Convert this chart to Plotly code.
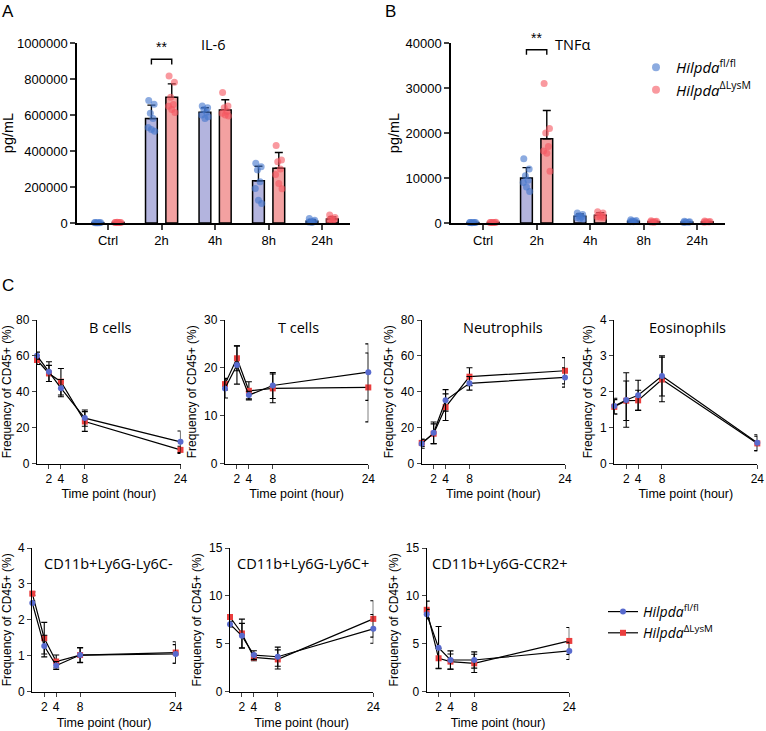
import plotly.graph_objects as go

W, H = 766, 731

# ---------------- Panel A / B data ----------------
categories = ["Ctrl", "2h", "4h", "8h", "24h"]

il6_fl_mean = [2000, 580000, 615000, 235000, 10000]
il6_fl_sd = [1000, 75000, 25000, 80000, 8000]
il6_ko_mean = [3000, 698000, 628000, 304000, 22000]
il6_ko_sd = [1000, 75000, 57000, 88000, 12000]
il6_fl_pts = [
    [1500, 2500, 2000, 1800, 2200, 1700],
    [680000, 660000, 610000, 580000, 530000, 520000, 510000],
    [650000, 640000, 630000, 615000, 600000, 580000, 590000],
    [332000, 313000, 295000, 229000, 192000, 127000, 108000],
    [25000, 15000, 10000, 8000, 5000, 3000],
]
il6_ko_pts = [
    [2500, 3000, 3500, 2800, 3200, 2600],
    [816000, 782000, 698000, 659000, 648000, 631000, 614000],
    [725000, 650000, 640000, 620000, 610000, 600000, 595000],
    [430000, 350000, 340000, 300000, 270000, 220000, 190000],
    [45000, 30000, 25000, 20000, 15000, 10000],
]

tnf_fl_mean = [100, 10000, 1500, 400, 200]
tnf_fl_sd = [50, 2300, 500, 150, 80]
tnf_ko_mean = [120, 18700, 1700, 300, 250]
tnf_ko_sd = [50, 6300, 600, 120, 100]
tnf_fl_pts = [
    [100, 120, 80, 90, 110, 100],
    [14300, 12000, 10500, 9500, 9000, 8000, 7000],
    [2200, 1900, 1600, 1400, 1200, 1000, 900],
    [700, 550, 450, 350, 300, 250],
    [400, 300, 200, 150, 100],
]
tnf_ko_pts = [
    [120, 140, 100, 110, 130, 120],
    [31000, 21000, 20000, 17000, 16000, 15500, 11500],
    [2500, 2200, 1800, 1600, 1400, 1300, 1200],
    [500, 400, 300, 250, 200, 180],
    [450, 350, 250, 200, 150],
]

# ---------------- Panel C data ----------------
time_h = [0, 2, 4, 8, 24]
time_ticks = [2, 4, 8, 24]

bcell_fl = [60.1, 51.2, 42.0, 25.3, 12.1]
bcell_fl_sd = [2.0, 5.5, 4.8, 4.5, 6.0]
bcell_ko = [57.7, 50.2, 45.6, 23.4, 7.6]
bcell_ko_sd = [2.5, 4.5, 7.4, 5.5, 2.0]

tcell_fl = [15.7, 20.6, 14.3, 16.3, 19.1]
tcell_fl_sd = [2.0, 4.0, 0.8, 2.7, 5.9]
tcell_ko = [16.6, 22.0, 15.2, 15.7, 15.9]
tcell_ko_sd = [1.2, 2.6, 1.9, 3.0, 7.2]

neut_fl = [11.0, 17.1, 35.2, 44.7, 48.0]
neut_fl_sd = [2.5, 6.0, 6.0, 3.8, 5.4]
neut_ko = [11.5, 16.6, 31.4, 48.4, 51.7]
neut_ko_sd = [2.0, 5.5, 7.4, 5.0, 7.3]

eos_fl = [1.60, 1.77, 1.90, 2.44, 0.58]
eos_fl_sd = [0.22, 0.76, 0.42, 0.56, 0.22]
eos_ko = [1.58, 1.75, 1.76, 2.34, 0.56]
eos_ko_sd = [0.20, 0.55, 0.28, 0.62, 0.20]

ly6cneg_fl = [2.47, 1.27, 0.73, 1.02, 1.05]
ly6cneg_fl_sd = [0.05, 0.30, 0.11, 0.20, 0.26]
ly6cneg_ko = [2.73, 1.49, 0.84, 1.02, 1.09]
ly6cneg_ko_sd = [0.05, 0.44, 0.18, 0.21, 0.30]

ly6cpos_fl = [7.05, 5.83, 3.82, 3.65, 6.56]
ly6cpos_fl_sd = [0.3, 1.3, 0.45, 1.0, 1.5]
ly6cpos_ko = [7.80, 6.08, 3.58, 3.37, 7.60]
ly6cpos_ko_sd = [0.2, 1.5, 0.35, 1.0, 1.9]

ccr2_fl = [8.09, 4.60, 3.31, 3.31, 4.26]
ccr2_fl_sd = [0.5, 2.2, 0.95, 0.85, 0.9]
ccr2_ko = [8.55, 3.49, 3.14, 2.96, 5.30]
ccr2_ko_sd = [0.9, 1.05, 0.8, 0.95, 1.4]

# ---------------- styles ----------------
SANS = "Liberation Sans, Arial, sans-serif"
HUM = "Open Sans, Noto Sans, sans-serif"
BAR_FL = "rgb(179,180,222)"
BAR_KO = "rgb(243,161,161)"
DOT_FL = "rgba(70,120,205,0.62)"
DOT_KO = "rgba(245,85,95,0.6)"
LINE_FL = "rgb(88,106,206)"
LINE_KO = "rgb(234,62,62)"
BAR_OFF = 0.19
BAR_W = 0.22
JIT = [-0.05, 0.05, -0.02, 0.03, -0.06, 0.0, 0.06]


def fx(p):
    return p / W


def fy(p):
    return 1 - p / H


fig = go.Figure()


def bar_panel(xa, ya, fl_mean, fl_sd, ko_mean, ko_sd, fl_pts, ko_pts):
    n = len(categories)
    for sign, mean, sd, col in ((-1, fl_mean, fl_sd, BAR_FL), (1, ko_mean, ko_sd, BAR_KO)):
        fig.add_trace(go.Bar(
            x=[i + sign * BAR_OFF for i in range(n)], y=mean, width=BAR_W,
            marker=dict(color=col, line=dict(color="black", width=1.5)),
            error_y=dict(type="data", symmetric=False, array=sd, arrayminus=[0] * n,
                         color="black", thickness=1.4, width=4),
            xaxis=xa, yaxis=ya, showlegend=False, hoverinfo="skip"))
    for sign, pts, col in ((-1, fl_pts, DOT_FL), (1, ko_pts, DOT_KO)):
        xs, ys = [], []
        for i, grp in enumerate(pts):
            for k, v in enumerate(grp):
                xs.append(i + sign * BAR_OFF + JIT[k % len(JIT)])
                ys.append(v)
        fig.add_trace(go.Scatter(x=xs, y=ys, mode="markers",
                                 marker=dict(color=col, size=7, line=dict(width=0)),
                                 xaxis=xa, yaxis=ya, showlegend=False, cliponaxis=False,
                                 hoverinfo="skip"))


bar_panel("x", "y", il6_fl_mean, il6_fl_sd, il6_ko_mean, il6_ko_sd, il6_fl_pts, il6_ko_pts)
bar_panel("x2", "y2", tnf_fl_mean, tnf_fl_sd, tnf_ko_mean, tnf_ko_sd, tnf_fl_pts, tnf_ko_pts)

# legend markers for bar panels
fig.add_trace(go.Scatter(x=[None], y=[None], mode="markers", name="<i>Hilpda</i><sup>fl/fl</sup>",
                         marker=dict(color=DOT_FL, size=8), legend="legend", xaxis="x2", yaxis="y2"))
fig.add_trace(go.Scatter(x=[None], y=[None], mode="markers", name="<i>Hilpda</i><sup>ΔLysM</sup>",
                         marker=dict(color=DOT_KO, size=8), legend="legend", xaxis="x2", yaxis="y2"))

# line panels
line_panels = [
    ("B cells", bcell_fl, bcell_fl_sd, bcell_ko, bcell_ko_sd, 80, 20),
    ("T cells", tcell_fl, tcell_fl_sd, tcell_ko, tcell_ko_sd, 30, 10),
    ("Neutrophils", neut_fl, neut_fl_sd, neut_ko, neut_ko_sd, 80, 20),
    ("Eosinophils", eos_fl, eos_fl_sd, eos_ko, eos_ko_sd, 4, 1),
    ("CD11b+Ly6G-Ly6C-", ly6cneg_fl, ly6cneg_fl_sd, ly6cneg_ko, ly6cneg_ko_sd, 4, 1),
    ("CD11b+Ly6G-Ly6C+", ly6cpos_fl, ly6cpos_fl_sd, ly6cpos_ko, ly6cpos_ko_sd, 15, 5),
    ("CD11b+Ly6G-CCR2+", ccr2_fl, ccr2_fl_sd, ccr2_ko, ccr2_ko_sd, 15, 5),
]
# pixel frames (x0, x1, ytop, ybottom)
line_frames = [
    (37, 180.5, 320, 463.5),
    (225, 368.3, 320, 463.5),
    (421.7, 565, 320, 463.5),
    (614.3, 757.3, 320, 463.5),
    (32.3, 175.7, 548, 691.7),
    (230, 373.3, 548, 691.7),
    (426.7, 569.3, 548, 691.7),
]
title_px = [(110, 327), (298, 327), (503, 327), (687, 327), (109, 563), (303, 563), (500, 563)]

layout_axes = {}
annotations = []

for j, (title, fl, fl_sd, ko, ko_sd, ymax, dt) in enumerate(line_panels):
    idx = j + 3
    xa, ya = f"x{idx}", f"y{idx}"
    for vals, sd, col, sym in ((ko, ko_sd, LINE_KO, "square"), (fl, fl_sd, LINE_FL, "circle")):
        fig.add_trace(go.Scatter(
            x=time_h, y=vals, mode="lines+markers",
            line=dict(color="black", width=1.2),
            marker=dict(color=col, symbol=sym, size=6, line=dict(width=0)),
            error_y=dict(type="data", array=sd, color="black", thickness=1.1, width=3),
            xaxis=xa, yaxis=ya, showlegend=False, cliponaxis=False, hoverinfo="skip"))
    x0, x1, yt, yb = line_frames[j]
    layout_axes[f"xaxis{idx}"] = dict(
        domain=[fx(x0), fx(x1)], range=[0, 24], anchor=ya, tickvals=time_ticks,
        showline=True, linecolor="black", linewidth=1.3, ticks="outside", ticklen=4,
        tickwidth=1.3, showgrid=False, zeroline=False, automargin=False,
        tickfont=dict(size=12, family=SANS, color="black"),
        title=dict(text="Time point (hour)", font=dict(size=12.5, family=SANS, color="black"),
                   standoff=4))
    layout_axes[f"yaxis{idx}"] = dict(
        domain=[fy(yb), fy(yt)], range=[0, ymax], dtick=dt, anchor=xa,
        showline=True, linecolor="black", linewidth=1.3, ticks="outside", ticklen=4,
        tickwidth=1.3, showgrid=False, zeroline=False, automargin=False,
        tickfont=dict(size=12, family=SANS, color="black"),
        title=dict(text="Frequency of CD45+ (%)", font=dict(size=12, family=SANS, color="black"),
                   standoff=4))
    tx, ty = title_px[j]
    annotations.append(dict(text=title, x=fx(tx), y=fy(ty), xref="paper", yref="paper",
                            showarrow=False, xanchor="center", yanchor="middle",
                            font=dict(size=14.5, family=HUM, color="black")))

# legend entries for line panels
fig.add_trace(go.Scatter(x=[None], y=[None], mode="lines+markers", name="<i>Hilpda</i><sup>fl/fl</sup>",
                         line=dict(color="black", width=1.2),
                         marker=dict(color=LINE_FL, symbol="circle", size=6),
                         legend="legend2", xaxis="x9", yaxis="y9"))
fig.add_trace(go.Scatter(x=[None], y=[None], mode="lines+markers", name="<i>Hilpda</i><sup>ΔLysM</sup>",
                         line=dict(color="black", width=1.2),
                         marker=dict(color=LINE_KO, symbol="square", size=6),
                         legend="legend2", xaxis="x9", yaxis="y9"))

# bar panel axes
def bar_axes(xdom, xr):
    return dict(domain=[fx(xdom[0]), fx(xdom[1])], range=xr, tickvals=list(range(len(categories))),
                ticktext=categories, showline=True, linecolor="black", linewidth=1.5,
                ticks="outside", ticklen=5, tickwidth=1.5, showgrid=False, zeroline=False,
                automargin=False, tickfont=dict(size=13, family=SANS, color="black"))


def bar_yaxes(ymax, dt):
    return dict(domain=[fy(223), fy(43)], range=[0, ymax], dtick=dt, tickformat="d",
                showline=True, linecolor="black", linewidth=1.5, ticks="outside", ticklen=5,
                tickwidth=1.5, showgrid=False, zeroline=False, automargin=False,
                tickfont=dict(size=13, family=SANS, color="black"),
                title=dict(text="pg/mL", font=dict(size=14.5, family=SANS, color="black"),
                           standoff=2))


xa1 = bar_axes((77, 350), [-0.58, 4.52]); xa1["anchor"] = "y"
ya1 = bar_yaxes(1000000, 200000); ya1["anchor"] = "x"
xa2 = bar_axes((451, 725), [-0.6, 4.52]); xa2["anchor"] = "y2"
ya2 = bar_yaxes(40000, 10000); ya2["anchor"] = "x2"

# significance brackets
sig = [("x", "y", 1, 880000, 910000, 925000), ("x2", "y2", 1, 37400, 38500, 39000)]
shapes = []
for xr, yr, ci, ylo, yhi, ystar in sig:
    xl, xrgt = ci - BAR_OFF, ci + BAR_OFF
    shapes.append(dict(type="path", xref=xr, yref=yr,
                       path=f"M {xl},{ylo} L {xl},{yhi} L {xrgt},{yhi} L {xrgt},{ylo}",
                       line=dict(color="black", width=1.4)))
    annotations.append(dict(text="**", x=ci, y=ystar, xref=xr, yref=yr, showarrow=False,
                            xanchor="center", yanchor="bottom",
                            font=dict(size=14, family=SANS, color="black")))

# bar panel titles
annotations.append(dict(text="IL-6", x=fx(213), y=fy(44), xref="paper", yref="paper", showarrow=False,
                        xanchor="center", yanchor="middle",
                        font=dict(size=14.5, family=HUM, color="black")))
annotations.append(dict(text="TNFα", x=fx(572), y=fy(44), xref="paper", yref="paper", showarrow=False,
                        xanchor="center", yanchor="middle",
                        font=dict(size=14.5, family=HUM, color="black")))
# panel letters
for letter, lx, ly in (("A", 8, 11), ("B", 390, 11), ("C", 8, 285)):
    annotations.append(dict(text=letter, x=fx(lx), y=fy(ly), xref="paper", yref="paper",
                            showarrow=False, xanchor="center", yanchor="middle",
                            font=dict(size=17, family=SANS, color="black")))

fig.update_layout(
    template="none",
    width=W, height=H, autosize=False,
    margin=dict(l=0, r=0, t=0, b=0, autoexpand=False),
    paper_bgcolor="white", plot_bgcolor="white",
    font=dict(family=SANS, color="black"),
    barmode="overlay",
    xaxis=xa1, yaxis=ya1, xaxis2=xa2, yaxis2=ya2,
    annotations=annotations, shapes=shapes,
    legend=dict(x=fx(636), y=fy(51), xanchor="left", yanchor="top",
                font=dict(size=15, family=HUM, color="black"), bgcolor="rgba(0,0,0,0)",
                itemclick=False),
    legend2=dict(x=fx(603), y=fy(596), xanchor="left", yanchor="top",
                 font=dict(size=14, family=HUM, color="black"), bgcolor="rgba(0,0,0,0)",
                 itemclick=False),
    **layout_axes,
)

fig.write_html("out.html", config={"displayModeBar": False},
               post_script="document.body.style.margin='0';")
